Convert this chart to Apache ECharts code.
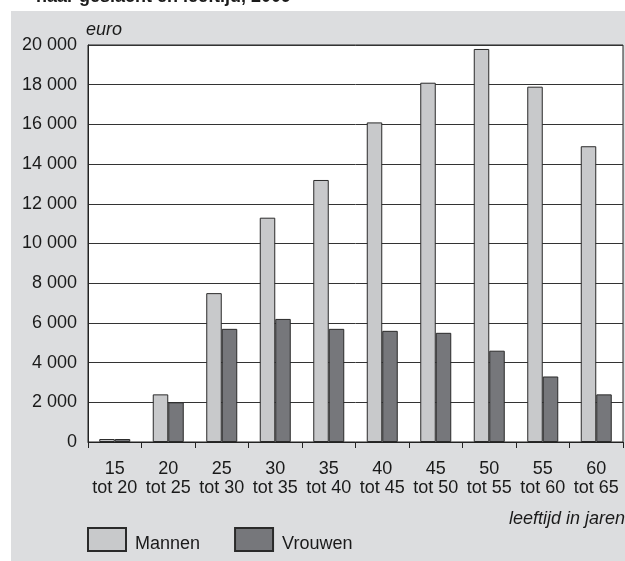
<!DOCTYPE html>
<html>
<head>
<meta charset="utf-8">
<script src="https://cdn.jsdelivr.net/npm/echarts@6/dist/echarts.min.js"></script>
<style>
html,body{margin:0;padding:0;background:#ffffff;}
#chart{width:625px;height:561px;}
</style>
</head>
<body>
<div id="chart"></div>
<script>
const categories = ['15\ntot 20','20\ntot 25','25\ntot 30','30\ntot 35','35\ntot 40','40\ntot 45','45\ntot 50','50\ntot 55','55\ntot 60','60\ntot 65'];
const mannen = [150, 2400, 7500, 11300, 13200, 16100, 18100, 19800, 17900, 14900];
const vrouwen = [150, 2000, 5700, 6200, 5700, 5600, 5500, 4600, 3300, 2400];
const yTicks = [0, 2000, 4000, 6000, 8000, 10000, 12000, 14000, 16000, 18000, 20000];
const seriesNames = ['Mannen', 'Vrouwen'];
const titleText = 'naar geslacht en leeftijd, 2009';
const yUnit = 'euro';
const xUnit = 'leeftijd in jaren';

const FONT = 'Liberation Sans, Arial, Helvetica, sans-serif';
const TXT = '#1a1a1a';
const chart = echarts.init(document.getElementById('chart'), null, {renderer:'canvas'});

function fmt(v){ return String(v).replace(/\B(?=(\d{3})+(?!\d))/g, ' '); }

chart.setOption({
  animation: false,
  backgroundColor: '#ffffff',
  textStyle: {fontFamily: FONT},
  graphic: [
    {type:'rect', left:11, top:11, shape:{width:614, height:550}, style:{fill:'#dcdddf'}, z:-10, silent:true},
    {type:'text', left:36, top:-12, style:{text:titleText, font:'bold 18px ' + FONT, fill:TXT}, z:10},
    {type:'text', left:86, top:21, style:{text:yUnit, font:'italic 18px ' + FONT, fill:TXT}},
    {type:'text', right:0, top:510, style:{text:xUnit, font:'italic 18px ' + FONT, fill:TXT}}
  ],
  legend: {
    data: seriesNames,
    left: 87, top: 527, padding: 0,
    itemWidth: 38, itemHeight: 23, itemGap: 34,
    icon: 'rect',
    formatter: name => '{t|' + name + '}',
    textStyle: {fontSize: 18, color: TXT, fontFamily: FONT,
      rich: {t: {fontSize: 18, color: TXT, fontFamily: FONT, padding: [10, 0, 0, 4]}}}
  },
  grid: {left:88, top:45, width:535, height:397, containLabel:false, show:true, backgroundColor:'#ffffff', borderColor:'#222222', borderWidth:1},
  xAxis: {
    type: 'category',
    data: categories,
    boundaryGap: true,
    axisLine: {show:true, lineStyle:{color:'#222222', width:1}},
    axisTick: {show:true, length:6, lineStyle:{color:'#222222'}},
    axisLabel: {fontSize:18, color:TXT, lineHeight:19, margin:18, interval:0, fontFamily:FONT},
    splitLine: {show:false}
  },
  yAxis: {
    type: 'value',
    min: yTicks[0], max: yTicks[yTicks.length-1], interval: 2000,
    axisLine: {show:true, lineStyle:{color:'#222222'}},
    axisTick: {show:false},
    axisLabel: {fontSize:18, color:TXT, margin:11, formatter: v => fmt(v), fontFamily:FONT},
    splitLine: {show:true, lineStyle:{color:'#333333', width:1}}
  },
  series: [
    {name: seriesNames[0], type:'bar', data: mannen, barWidth:15.5, barGap:'0%',
     itemStyle:{color:'#c8c9cb', borderColor:'#2a2a2a', borderWidth:1}},
    {name: seriesNames[1], type:'bar', data: vrouwen, barWidth:15.5, barGap:'0%',
     itemStyle:{color:'#76777b', borderColor:'#2a2a2a', borderWidth:1}}
  ]
});
</script>
</body>
</html>
